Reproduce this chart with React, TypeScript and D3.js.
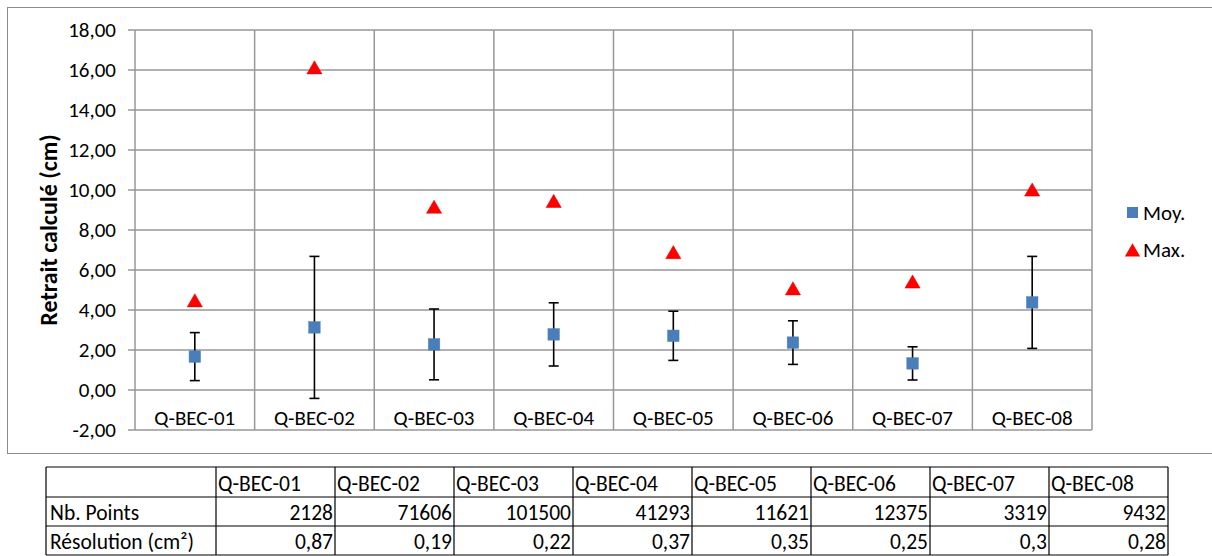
import React from "react";
import * as d3 from "d3";

const categories = ["Q-BEC-01", "Q-BEC-02", "Q-BEC-03", "Q-BEC-04", "Q-BEC-05", "Q-BEC-06", "Q-BEC-07", "Q-BEC-08"];
const moyValues = [1.67, 3.13, 2.28, 2.78, 2.71, 2.37, 1.33, 4.38];
const maxValues = [4.45, 16.1, 9.13, 9.42, 6.86, 5.05, 5.39, 9.99];
const errValues = [1.2, 3.55, 1.77, 1.58, 1.23, 1.09, 0.83, 2.3];
const yTicks = [-2, 0, 2, 4, 6, 8, 10, 12, 14, 16, 18];
const nbPoints = ["2128", "71606", "101500", "41293", "11621", "12375", "3319", "9432"];
const resolution = ["0,87", "0,19", "0,22", "0,37", "0,35", "0,25", "0,3", "0,28"];
const rowLabels = ["Nb. Points", "Résolution (cm²)"];

const FONT = "Carlito, Lato, 'Open Sans', sans-serif";

export default function App() {
  const x = d3.scaleBand<string>().domain(categories).range([135, 1092]).padding(0);
  const y = d3.scaleLinear().domain([-2, 18]).range([430, 30]);
  const fmt = (v: number) => v.toFixed(2).replace(".", ",");
  const grid = "#979797";
  const tri = d3.symbol().type(d3.symbolTriangle).size(100)();
  const legendSq = 11;

  const tx = d3.scaleBand<string>().domain(categories).range([216, 1168]).padding(0);
  const rowYs = [467, 497, 526, 555];
  const fs = 21;
  const tfs = 21.5;

  return (
    <svg width={1212} height={556} style={{ position: "absolute", left: 0, top: 0, background: "#fff" }} fontFamily={FONT}>
      <rect x={7.5} y={7.5} width={1220} height={446} fill="#fff" stroke="#8c8c8c" strokeWidth={1} />
      {yTicks.map((t) => (
        <g key={"h" + t}>
          <line x1={128} x2={1092} y1={y(t)} y2={y(t)} stroke={grid} strokeWidth={1.5} />
          <text x={116} y={y(t)} dy="0.35em" textAnchor="end" fontSize={fs} fill="#000">{fmt(t)}</text>
        </g>
      ))}
      {categories.map((c) => (
        <line key={"v" + c} x1={x(c)!} x2={x(c)!} y1={y(18)} y2={y(-2)} stroke={grid} strokeWidth={1.5} />
      ))}
      <line x1={1092} x2={1092} y1={y(18)} y2={y(-2)} stroke={grid} strokeWidth={1.5} />
      {categories.map((c) => (
        <text key={"l" + c} x={x(c)! + x.bandwidth() / 2} y={418} dy="0.35em" textAnchor="middle" fontSize={fs} fill="#000">{c}</text>
      ))}
      <text transform={`translate(49,230) rotate(-90)`} textAnchor="middle" dy="0.35em" fontSize={24} fontWeight="bold" fill="#000">Retrait calculé (cm)</text>
      {categories.map((c, i) => {
        const cx = x(c)! + x.bandwidth() / 2;
        const top = y(moyValues[i] + errValues[i]);
        const bot = y(moyValues[i] - errValues[i]);
        return (
          <g key={"e" + c} stroke="#000" strokeWidth={1.6}>
            <line x1={cx} x2={cx} y1={top} y2={bot} />
            <line x1={cx - 5} x2={cx + 5} y1={top} y2={top} />
            <line x1={cx - 5} x2={cx + 5} y1={bot} y2={bot} />
          </g>
        );
      })}
      {categories.map((c, i) => {
        const cx = x(c)! + x.bandwidth() / 2;
        return <rect key={"s" + c} x={cx - 5.75} y={y(moyValues[i]) - 5.75} width={11.5} height={11.5} fill="#4a7ebb" stroke="#4f81bd" strokeWidth={0.5} />;
      })}
      {categories.map((c, i) => {
        const cx = x(c)! + x.bandwidth() / 2;
        return <path key={"t" + c} d={tri!} transform={`translate(${cx},${y(maxValues[i]) + 1.5})`} fill="#ff0000" stroke="#e00000" strokeWidth={0.5} />;
      })}
      <rect x={1127} y={207} width={legendSq} height={legendSq} fill="#4a7ebb" />
      <text x={1143} y={212.5} dy="0.35em" fontSize={fs} fill="#000">Moy.</text>
      <path d={tri!} transform={`translate(1132.5,252)`} fill="#ff0000" />
      <text x={1143} y={250} dy="0.35em" fontSize={fs} fill="#000">Max.</text>
      <g stroke="#000" strokeWidth={1.2}>
        {rowYs.map((ry) => (
          <line key={"tr" + ry} x1={46} x2={1168} y1={ry} y2={ry} />
        ))}
        <line x1={46} x2={46} y1={467} y2={555} />
        {categories.map((c) => (
          <line key={"tc" + c} x1={tx(c)!} x2={tx(c)!} y1={467} y2={555} />
        ))}
        <line x1={1168} x2={1168} y1={467} y2={555} />
      </g>
      {categories.map((c) => (
        <text key={"th" + c} x={tx(c)! + 2} y={(rowYs[0] + rowYs[1]) / 2 + 1} dy="0.35em" fontSize={tfs} fill="#000">{c}</text>
      ))}
      {rowLabels.map((lbl, r) => (
        <text key={"rl" + r} x={50} y={(rowYs[r + 1] + rowYs[r + 2]) / 2 + 1} dy="0.35em" fontSize={tfs} fill="#000">{lbl}</text>
      ))}
      {categories.map((c, i) => (
        <text key={"n" + c} x={tx(c)! + tx.bandwidth() - 2} y={(rowYs[1] + rowYs[2]) / 2 + 1} dy="0.35em" textAnchor="end" fontSize={tfs} fill="#000">{nbPoints[i]}</text>
      ))}
      {categories.map((c, i) => (
        <text key={"r" + c} x={tx(c)! + tx.bandwidth() - 2} y={(rowYs[2] + rowYs[3]) / 2 + 1} dy="0.35em" textAnchor="end" fontSize={tfs} fill="#000">{resolution[i]}</text>
      ))}
    </svg>
  );
}
